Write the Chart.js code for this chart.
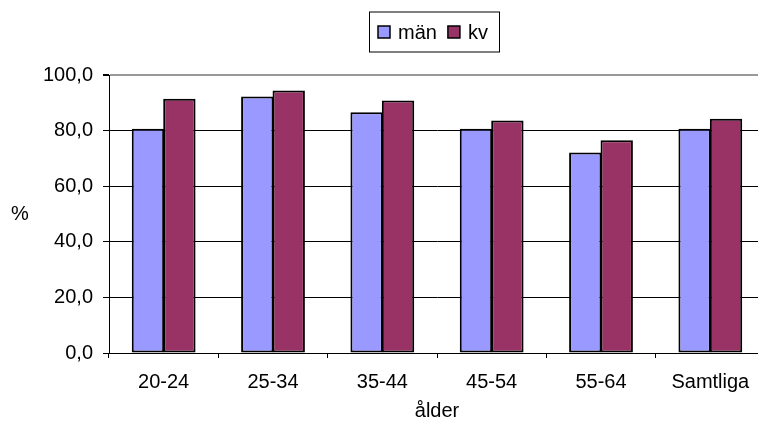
<!DOCTYPE html>
<html>
<head>
<meta charset="utf-8">
<script src="https://cdn.jsdelivr.net/npm/chart.js@4/dist/chart.umd.min.js"></script>
<style>
  html, body { margin: 0; padding: 0; background: #fff; overflow: hidden; }
  body { width: 758px; height: 423px; }
  canvas { display: block; }
</style>
</head>
<body>
<canvas id="c" width="765" height="423"></canvas>
<script>
// Andel i procent per åldersgrupp
const categories = ['20-24', '25-34', '35-44', '45-54', '55-64', 'Samtliga'];
const man = [80.7, 92.3, 86.6, 80.7, 72.1, 80.7];
const kv = [91.5, 94.4, 90.8, 83.6, 76.5, 84.3];
const seriesNames = ['män', 'kv'];
const yTicks = [0, 20, 40, 60, 80, 100];

const FONT = 'Liberation Sans, Arial, sans-serif';

// Boxed legend at the top and the horizontal "%" axis label
const decorations = {
  id: 'decorations',
  afterDraw(chart) {
    const ctx = chart.ctx;
    ctx.save();
    ctx.font = '20px ' + FONT;
    ctx.textBaseline = 'middle';
    ctx.fillStyle = '#000';

    // legend frame
    const bx = 369.5, by = 12, bw = 130, bh = 40;
    ctx.fillStyle = '#fff';
    ctx.fillRect(bx, by, bw, bh);
    ctx.strokeStyle = '#000';
    ctx.lineWidth = 1;
    ctx.strokeRect(bx, by, bw, bh);

    const cy = by + bh / 2;
    let x = 378;
    chart.data.datasets.forEach(ds => {
      ctx.fillStyle = ds.backgroundColor;
      ctx.fillRect(x, cy - 6, 12, 12);
      ctx.lineWidth = 1.5;
      ctx.strokeStyle = '#000';
      ctx.strokeRect(x, cy - 6, 12, 12);
      ctx.fillStyle = '#000';
      ctx.textAlign = 'left';
      ctx.fillText(ds.label, x + 20, cy + 1);
      x += 20 + ctx.measureText(ds.label).width + 11;
    });

    // y-axis label
    const area = chart.chartArea;
    ctx.textAlign = 'center';
    ctx.fillText('%', 20, (area.top + area.bottom) / 2);
    ctx.restore();
  }
};

new Chart(document.getElementById('c'), {
  type: 'bar',
  data: {
    labels: categories,
    datasets: [
      { label: seriesNames[0], data: man, backgroundColor: '#9999FF', borderColor: '#000', borderWidth: 2, borderSkipped: false },
      { label: seriesNames[1], data: kv, backgroundColor: '#993366', borderColor: '#000', borderWidth: 2, borderSkipped: false }
    ]
  },
  options: {
    responsive: false,
    animation: false,
    devicePixelRatio: 1,
    layout: { padding: { top: 75, right: 0, bottom: 0, left: 0 } },
    // bars in a group overlap by about a pixel so their borders merge
    datasets: { bar: { categoryPercentage: 0.575, barPercentage: 1.03 } },
    plugins: {
      legend: { display: false },
      tooltip: { enabled: false }
    },
    scales: {
      x: {
        afterFit(scale) { scale.height = 70; },
        grid: {
          offset: true,
          drawOnChartArea: false,
          drawTicks: true,
          tickLength: 5,
          color: '#000'
        },
        border: { color: '#000', width: 1 },
        ticks: { color: '#000', font: { family: FONT, size: 20 }, padding: 12, maxRotation: 0 },
        title: { display: true, text: 'ålder', color: '#000', font: { family: FONT, size: 20 }, padding: { top: 0, bottom: 0 } }
      },
      y: {
        min: 0,
        max: 100,
        afterFit(scale) { scale.width = 109; },
        afterBuildTicks(scale) { scale.ticks = yTicks.map(v => ({ value: v })); },
        grid: {
          color: ctx => (ctx.tick && ctx.tick.value === 100 ? '#999' : '#000'),
          lineWidth: ctx => (ctx.tick && ctx.tick.value === 100 ? 2 : 1),
          tickColor: '#000',
          tickLength: 6
        },
        border: { color: '#000', width: 1 },
        ticks: {
          color: '#000',
          font: { family: FONT, size: 20 },
          padding: 10,
          callback: v => Number(v).toFixed(1).replace('.', ',')
        }
      }
    }
  },
  plugins: [decorations]
});
</script>
</body>
</html>
